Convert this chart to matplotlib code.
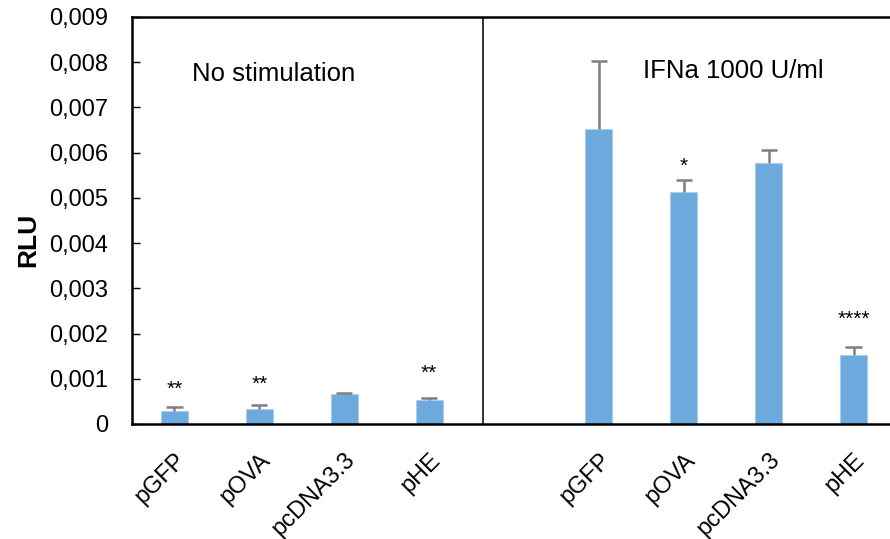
import matplotlib
matplotlib.use("Agg")
import matplotlib.pyplot as plt
from matplotlib.ticker import FuncFormatter

plt.rcParams['font.family'] = ['Liberation Sans', 'DejaVu Sans']

categories = ["pGFP", "pOVA", "pcDNA3.3", "pHE", "", "pGFP", "pOVA", "pcDNA3.3", "pHE"]
values = [0.00028, 0.00033, 0.00066, 0.00054, None, 0.00653, 0.00513, 0.00577, 0.00152]
errors = [0.00009, 0.00010, 0.00003, 0.00003, None, 0.00149, 0.00027, 0.00028, 0.00018]
stars = ["**", "**", "", "**", "", "", "*", "", "****"]
star_y = [0.00077, 0.00088, None, 0.00113, None, None, 0.00570, None, 0.00231]
group_titles = ["No stimulation", "IFNa 1000 U/ml"]

fig = plt.figure(figsize=(8.9, 5.39), dpi=100)
ax = fig.add_axes([132/890, 1-424/539, (896-132)/890, (424-17)/539])

xs = [i for i, v in enumerate(values) if v is not None]
vals = [values[i] for i in xs]
errs = [errors[i] for i in xs]
tops = [v + e for v, e in zip(vals, errs)]

ax.bar(xs, vals, width=0.32, color='#6CAADD', edgecolor='#A9CDEB', linewidth=0.8, zorder=2)
ax.vlines(xs, vals, tops, color='#7F7F7F', linewidth=1.8, zorder=3)
ax.hlines(tops, [x - 0.095 for x in xs], [x + 0.095 for x in xs], color='#7F7F7F', linewidth=1.8, zorder=3)

for i, s in enumerate(stars):
    if s:
        ax.text(i, star_y[i], s, ha='center', va='center', fontsize=15)

ax.set_xlim(-0.5, 8.5)
ax.set_ylim(0, 0.009)
ax.set_yticks([i*0.001 for i in range(10)])
ax.yaxis.set_major_formatter(FuncFormatter(lambda v, p: "0" if abs(v) < 1e-12 else f"{v:.3f}".replace('.', ',')))
ax.tick_params(axis='y', direction='in', length=6, width=1, labelsize=17, pad=17)
ax.set_xticks(range(len(categories)))
ax.set_xticklabels(categories, rotation=45, ha='right', rotation_mode='anchor', fontsize=17)
ax.tick_params(axis='x', length=0, pad=18)

for sp in ['left', 'bottom', 'top']:
    ax.spines[sp].set_linewidth(1.8)
    ax.spines[sp].set_color('black')
ax.spines['right'].set_visible(False)

ax.axvline(3.64, color='#333333', linewidth=1.4, zorder=1)

ax.text(1.17, 0.00775, group_titles[0], ha='center', va='center', fontsize=18.5)
ax.text(6.58, 0.00780, group_titles[1], ha='center', va='center', fontsize=18.5)

fig.text(28/890, 1-240/539, "RLU", rotation=90, ha='center', va='center', fontsize=19, fontweight='bold')

fig.savefig("out.png", dpi=100)
